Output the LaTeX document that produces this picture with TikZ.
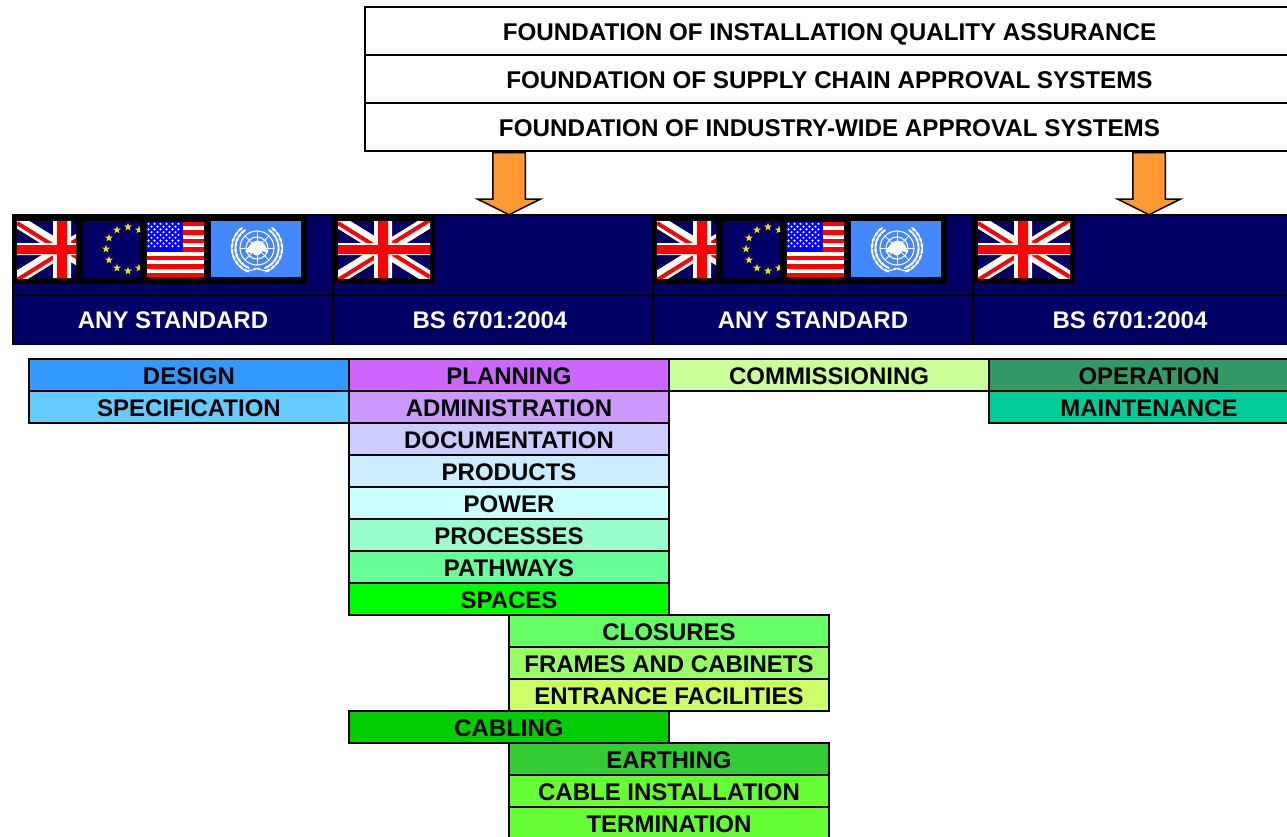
\documentclass[tikz,border=0pt]{standalone}
\usepackage{fontspec}
\setmainfont{Liberation Sans}
\usetikzlibrary{shapes.arrows}
\definecolor{navyband}{HTML}{000066}
\definecolor{unblue}{HTML}{4488FF}
\definecolor{euyellow}{HTML}{EEE000}
\definecolor{ukred}{HTML}{FF0000}
\definecolor{arroworange}{HTML}{FF9933}
\tikzset{
    capsbox/.style={draw=black,line width=1.5pt,inner sep=0pt,font=\fontsize{24}{24}\selectfont\bfseries,text height=18.5pt,text depth=0pt},
    topbox/.style={capsbox,font=\fontsize{24.2}{24.2}\selectfont\bfseries,fill=white,minimum width=929pt,minimum height=48pt},
    listbox/.style={capsbox,minimum width=320pt,minimum height=32pt},
    bandbox/.style={capsbox,fill=navyband,text=white,minimum width=320pt,minimum height=49pt},
    flagbox/.style={draw=black,line width=1.5pt,fill=navyband,inner sep=0pt,minimum width=320pt,minimum height=80pt},
    downarrow/.style={draw=black,line width=1.5pt,fill=arroworange,inner sep=15.5pt,anchor=tail,single arrow,shape border rotate=270,minimum height=62pt,single arrow head extend=15pt,single arrow tip angle=127}
}
% flags: #1,#2 top left corner, #3 visible width
\newcommand{\ukflag}[3]{
    \begin{scope}[shift={(#1,#2)}]
    \clip (0,0) rectangle (#3,57);
    \fill[navyband] (0,0) rectangle (92,57);
    \draw[white,line width=13pt] (0,0) -- (92,57) (0,57) -- (92,0);
    \draw[ukred,line width=4pt] (0,2) -- (45,30) (45,27) -- (92,56) (0,59) -- (45,31) (45,28) -- (92,-1);
    \fill[white] (36,0) rectangle (54,57) (0,22) rectangle (92,34);
    \fill[ukred] (40,0) rectangle (50,57) (0,24) rectangle (92,33);
    \end{scope}
}
\newcommand{\euflag}[2]{
    \begin{scope}[shift={(#1,#2)}]
    \clip (0,0) rectangle (57,56);
    \fill[navyband] (0,0) rectangle (57,56);
    \foreach \ang in {0,30,...,330}
        \fill[euyellow,shift={(45,28)},shift={(\ang:22)}] (270:4.2) -- (306:1.7) -- (342:4.2) -- (18:1.7) -- (54:4.2) -- (90:1.7) -- (126:4.2) -- (162:1.7) -- (198:4.2) -- (234:1.7) -- cycle;
    \end{scope}
}
\newcommand{\usflag}[2]{
    \begin{scope}[shift={(#1,#2)}]
    \fill[white] (0,0) rectangle (57,55);
    \foreach \row in {0,2,...,12}
        \fill[ukred] (0,\row*4.23) rectangle (57,\row*4.23+4.23);
    \fill[blue] (0,0) rectangle (36,30);
    \foreach \row in {1,...,5}
        \foreach \col in {1,...,6}
            \fill[white] (\col*6-4.5,\row*5.6-3.8) circle (1.2);
    \foreach \row in {1,...,4}
        \foreach \col in {1,...,5}
            \fill[white] (\col*6-1.5,\row*5.6-1) circle (1.2);
    \end{scope}
}
\newcommand{\unflag}[2]{
    \begin{scope}[shift={(#1,#2)}]
    \fill[unblue] (0,0) rectangle (90,56);
    \begin{scope}[shift={(46,27)}]
    \draw[white,line width=1.1pt] (0,0) circle (5.5) circle (11) circle (17);
    \foreach \ang in {0,45,...,315}
        \draw[white,line width=0.9pt] (0,0) -- (\ang:17);
    \fill[white] (-12,4) -- (-7,-3) .. controls (-4,-9) and (5,-9) .. (8,-3) -- (11,5) -- (5,3) .. controls (3,8) and (-2,9) .. (-4,5) -- cycle;
    \foreach \ang in {-62,-48,...,50} {
        \fill[white,rotate=\ang] (21.5,0) ellipse (1.2 and 3.4);
        \fill[white,rotate=\ang] (25,1) ellipse (1.2 and 3.4);
        \fill[white,rotate=-\ang] (-21.5,0) ellipse (1.2 and 3.4);
        \fill[white,rotate=-\ang] (-25,1) ellipse (1.2 and 3.4);
    }
    \draw[white,line width=1pt] (-9,23) -- (3,20) (9,23) -- (-3,20);
    \end{scope}
    \end{scope}
}
\begin{document}
\begin{tikzpicture}[x=1pt,y=-1pt]
    \useasboundingbox (0,0) rectangle (1287,837);
    % foundations
    \node[topbox] (installation) at (829.5,31) {FOUNDATION OF INSTALLATION QUALITY ASSURANCE};
    \node[topbox] (supply) at (829.5,79) {FOUNDATION OF SUPPLY CHAIN APPROVAL SYSTEMS};
    \node[topbox] (industry) at (829.5,127) {FOUNDATION OF INDUSTRY-WIDE APPROVAL SYSTEMS};
    % standards band
    \node[flagbox] (flagsA) at (173,255) {};
    \node[flagbox] (flagsB) at (493,255) {};
    \node[flagbox] (flagsC) at (813,255) {};
    \node[flagbox] (flagsD) at (1133,255) {};
    \node[bandbox] (anyA) at (173,319.5) {ANY STANDARD};
    \node[bandbox] (bsA) at (493,319.5) {\hspace{-6pt}BS 6701:2004};
    \node[bandbox] (anyB) at (813,319.5) {ANY STANDARD};
    \node[bandbox] (bsB) at (1133,319.5) {\hspace{-6pt}BS 6701:2004};
    % flags
    \foreach \dx in {0,640} {
        \fill[black] (12+\dx,214) rectangle (307+\dx,284);
        \fill[black] (333+\dx,214) rectangle (435+\dx,284);
        \ukflag{17+\dx}{221}{59}
        \euflag{83+\dx}{221}
        \usflag{147+\dx}{222}
        \unflag{211+\dx}{221}
        \ukflag{338+\dx}{221}{92}
    }
    % arrows
    \node[downarrow] (arrowA) at (509,152) {};
    \node[downarrow] (arrowB) at (1149,152) {};
    % activities
    \node[listbox,fill={rgb,255:red,51;green,153;blue,255}] (design) at (189,375) {DESIGN};
    \node[listbox,fill={rgb,255:red,102;green,204;blue,255}] (specification) at (189,407) {SPECIFICATION};
    \node[listbox,fill={rgb,255:red,204;green,102;blue,255}] (planning) at (509,375) {PLANNING};
    \node[listbox,fill={rgb,255:red,204;green,153;blue,255}] (administration) at (509,407) {ADMINISTRATION};
    \node[listbox,fill={rgb,255:red,204;green,204;blue,255}] (documentation) at (509,439) {DOCUMENTATION};
    \node[listbox,fill={rgb,255:red,204;green,236;blue,255}] (products) at (509,471) {PRODUCTS};
    \node[listbox,fill={rgb,255:red,204;green,255;blue,255}] (power) at (509,503) {POWER};
    \node[listbox,fill={rgb,255:red,153;green,255;blue,204}] (processes) at (509,535) {PROCESSES};
    \node[listbox,fill={rgb,255:red,102;green,255;blue,153}] (pathways) at (509,567) {PATHWAYS};
    \node[listbox,fill={rgb,255:red,0;green,255;blue,0}] (spaces) at (509,599) {SPACES};
    \node[listbox,fill={rgb,255:red,102;green,255;blue,102}] (closures) at (669,631) {CLOSURES};
    \node[listbox,fill={rgb,255:red,153;green,255;blue,102}] (frames) at (669,663) {FRAMES AND CABINETS};
    \node[listbox,fill={rgb,255:red,204;green,255;blue,102}] (entrance) at (669,695) {ENTRANCE FACILITIES};
    \node[listbox,fill={rgb,255:red,0;green,204;blue,0}] (cabling) at (509,727) {CABLING};
    \node[listbox,fill={rgb,255:red,51;green,204;blue,51}] (earthing) at (669,759) {EARTHING};
    \node[listbox,fill={rgb,255:red,102;green,255;blue,51}] (installing) at (669,791) {CABLE INSTALLATION};
    \node[listbox,fill={rgb,255:red,102;green,255;blue,51}] (termination) at (669,823) {TERMINATION};
    \node[listbox,fill={rgb,255:red,204;green,255;blue,153}] (commissioning) at (829,375) {COMMISSIONING};
    \node[listbox,fill={rgb,255:red,51;green,153;blue,102}] (operation) at (1149,375) {OPERATION};
    \node[listbox,fill={rgb,255:red,0;green,204;blue,153}] (maintenance) at (1149,407) {MAINTENANCE};
\end{tikzpicture}
\end{document}
